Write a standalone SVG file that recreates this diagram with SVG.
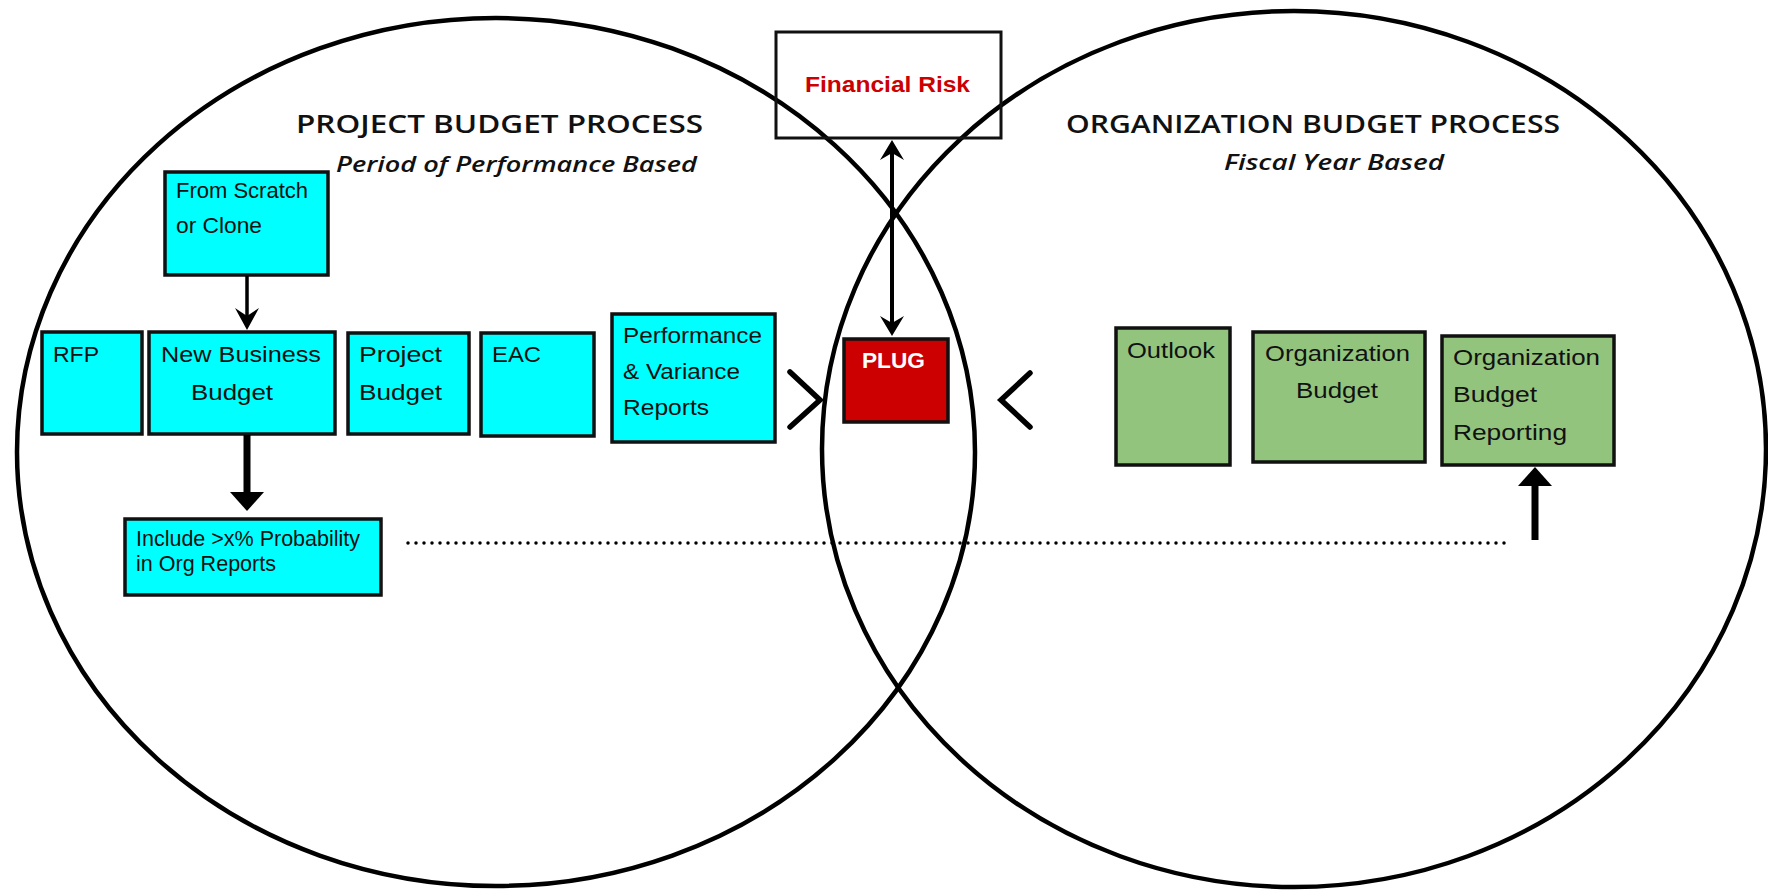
<svg xmlns="http://www.w3.org/2000/svg" width="1768" height="890" viewBox="0 0 1768 890">
  <style>
    .lbl { font-family: "Liberation Sans", Arial, sans-serif; font-size: 22px; fill: #111; }
    .ttl { font-family: "Open Sans", "Liberation Sans", sans-serif; font-size: 25px; font-weight: 600; fill: #111; }
    .sub { font-family: "Open Sans", "Liberation Sans", sans-serif; font-size: 21px; font-weight: 600; font-style: italic; fill: #111; }
    .cyan { fill: #00FFFF; stroke: #111; stroke-width: 3.5; }
    .green { fill: #93C47D; stroke: #111; stroke-width: 3.5; }
    .ring { fill: none; stroke: #000; stroke-width: 4.5; }
    .edge { stroke: #000; fill: none; }
    .chev { fill: none; stroke: #000; stroke-width: 5.5; stroke-linecap: round; stroke-linejoin: miter; }
  </style>
  <defs>
    <marker id="headThin" markerWidth="8" markerHeight="8" refX="4" refY="6.5" orient="auto-start-reverse" markerUnits="userSpaceOnUse" viewBox="0 0 8 8" overflow="visible">
      <path d="M-9,-12 L4,6.5 L17,-12 L4,-6 Z" fill="#000"/>
    </marker>
    <marker id="headWide" markerWidth="8" markerHeight="8" refX="0" refY="0" orient="auto-start-reverse" markerUnits="userSpaceOnUse" overflow="visible">
      <path d="M-18,-18 L0,0 L18,-18 Z" fill="#000"/>
    </marker>
  </defs>

  <rect x="0" y="0" width="1768" height="890" fill="#fff"/>

  <!-- two overlapping process rings -->
  <g id="rings">
    <ellipse class="ring" cx="496" cy="452" rx="479" ry="434"/>
    <ellipse class="ring" cx="1294" cy="449" rx="472" ry="438"/>
  </g>

  <!-- section titles -->
  <g id="titles">
    <text class="ttl" x="296" y="133" textLength="407" lengthAdjust="spacingAndGlyphs">PROJECT BUDGET PROCESS</text>
    <text class="sub" x="336" y="172" textLength="361" lengthAdjust="spacingAndGlyphs">Period of Performance Based</text>
    <text class="ttl" x="1066" y="133" textLength="494" lengthAdjust="spacingAndGlyphs">ORGANIZATION BUDGET PROCESS</text>
    <text class="sub" x="1224" y="170" textLength="220" lengthAdjust="spacingAndGlyphs">Fiscal Year Based</text>
  </g>

  <!-- project side -->
  <g id="from-scratch">
    <rect class="cyan" x="165" y="172" width="163" height="103"/>
    <text class="lbl" x="176" y="198" font-size="20" textLength="132" lengthAdjust="spacingAndGlyphs">From Scratch</text>
    <text class="lbl" x="176" y="233" font-size="20" textLength="86" lengthAdjust="spacingAndGlyphs">or Clone</text>
  </g>
  <g id="rfp">
    <rect class="cyan" x="42" y="332" width="100" height="102"/>
    <text class="lbl" x="53" y="362" textLength="46" lengthAdjust="spacingAndGlyphs">RFP</text>
  </g>
  <g id="new-business-budget">
    <rect class="cyan" x="149" y="332" width="186" height="102"/>
    <text class="lbl" x="161" y="362" textLength="160" lengthAdjust="spacingAndGlyphs">New Business</text>
    <text class="lbl" x="191" y="400" textLength="82" lengthAdjust="spacingAndGlyphs">Budget</text>
  </g>
  <g id="project-budget">
    <rect class="cyan" x="348" y="333" width="121" height="101"/>
    <text class="lbl" x="359" y="362" textLength="83" lengthAdjust="spacingAndGlyphs">Project</text>
    <text class="lbl" x="359" y="400" textLength="83" lengthAdjust="spacingAndGlyphs">Budget</text>
  </g>
  <g id="eac">
    <rect class="cyan" x="481" y="333" width="113" height="103"/>
    <text class="lbl" x="492" y="362" textLength="49" lengthAdjust="spacingAndGlyphs">EAC</text>
  </g>
  <g id="performance-reports">
    <rect class="cyan" x="612" y="314" width="163" height="128"/>
    <text class="lbl" x="623" y="343" textLength="139" lengthAdjust="spacingAndGlyphs">Performance</text>
    <text class="lbl" x="623" y="379" textLength="117" lengthAdjust="spacingAndGlyphs">&amp; Variance</text>
    <text class="lbl" x="623" y="415" textLength="86" lengthAdjust="spacingAndGlyphs">Reports</text>
  </g>
  <g id="include-probability">
    <rect class="cyan" x="125" y="519" width="256" height="76"/>
    <text class="lbl" x="136" y="546" font-size="18" textLength="224" lengthAdjust="spacingAndGlyphs">Include &gt;x% Probability</text>
    <text class="lbl" x="136" y="571" font-size="18" textLength="140" lengthAdjust="spacingAndGlyphs">in Org Reports</text>
  </g>

  <!-- centre -->
  <g id="financial-risk">
    <rect x="776" y="32" width="225" height="106" fill="none" stroke="#111" stroke-width="3"/>
    <text x="805" y="92" font-family="Liberation Sans, Arial, sans-serif" font-size="22" font-weight="bold" fill="#CC0000" textLength="165" lengthAdjust="spacingAndGlyphs">Financial Risk</text>
  </g>
  <g id="plug">
    <rect x="844" y="339" width="104" height="83" fill="#CC0000" stroke="#111" stroke-width="3.5"/>
    <text x="862" y="368" font-family="Liberation Sans, Arial, sans-serif" font-size="22" font-weight="bold" fill="#fff" textLength="63" lengthAdjust="spacingAndGlyphs">PLUG</text>
  </g>

  <!-- organization side -->
  <g id="outlook">
    <rect class="green" x="1116" y="328" width="114" height="137"/>
    <text class="lbl" x="1127" y="358" font-size="23" textLength="88" lengthAdjust="spacingAndGlyphs">Outlook</text>
  </g>
  <g id="organization-budget">
    <rect class="green" x="1253" y="332" width="172" height="130"/>
    <text class="lbl" x="1265" y="361" font-size="23" textLength="145" lengthAdjust="spacingAndGlyphs">Organization</text>
    <text class="lbl" x="1296" y="398" font-size="23" textLength="82" lengthAdjust="spacingAndGlyphs">Budget</text>
  </g>
  <g id="organization-budget-reporting">
    <rect class="green" x="1442" y="336" width="172" height="129"/>
    <text class="lbl" x="1453" y="365" font-size="23" textLength="147" lengthAdjust="spacingAndGlyphs">Organization</text>
    <text class="lbl" x="1453" y="402" font-size="23" textLength="84" lengthAdjust="spacingAndGlyphs">Budget</text>
    <text class="lbl" x="1453" y="440" font-size="23" textLength="114" lengthAdjust="spacingAndGlyphs">Reporting</text>
  </g>

  <!-- connectors -->
  <g id="connectors">
    <!-- scratch/clone into new business budget -->
    <line class="edge" x1="247" y1="276" x2="247" y2="322" stroke-width="3.5"/>
    <path d="M235,308 L247,330 L259,308 L247,316 Z" fill="#000"/>
    <!-- new business budget down to report inclusion -->
    <line class="edge" x1="247" y1="435" x2="247" y2="496" stroke-width="7"/>
    <path d="M230,492 L247,511 L264,492 Z" fill="#000"/>
    <!-- financial risk <-> plug -->
    <line class="edge" x1="892" y1="148" x2="892" y2="328" stroke-width="4"/>
    <path d="M880,160 L892,140 L904,160 L892,153 Z" fill="#000"/>
    <path d="M880,316 L892,336 L904,316 L892,323 Z" fill="#000"/>
    <!-- dotted link to organization reporting -->
    <line x1="408" y1="543" x2="1509" y2="543" stroke="#000" stroke-width="3.5" stroke-linecap="round" stroke-dasharray="0 8"/>
    <!-- rising arrow into reporting -->
    <line class="edge" x1="1535" y1="540" x2="1535" y2="482" stroke-width="7"/>
    <path d="M1518,486 L1535,467 L1552,486 Z" fill="#000"/>
    <!-- chevrons pointing at plug -->
    <polyline class="chev" points="790,372 820,400 790,427"/>
    <polyline class="chev" points="1030,373 1001,400 1030,427"/>
  </g>
</svg>
